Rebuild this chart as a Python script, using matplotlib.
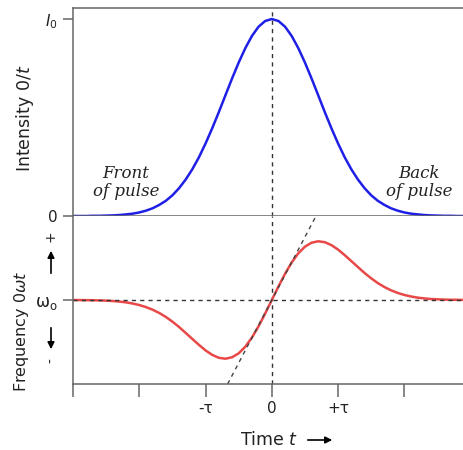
import numpy as np
import matplotlib.pyplot as plt
from matplotlib.patches import FancyArrowPatch

# time axis in units of tau
t = np.round(np.arange(-3.0, 3.01, 0.1), 2)

# intensity I(t)/I0 (symmetric, 0 -> 3)
intensity_half = [1.000, 0.990, 0.961, 0.914, 0.852, 0.779, 0.698, 0.613, 0.527, 0.445,
                  0.368, 0.298, 0.237, 0.185, 0.141, 0.105, 0.077, 0.056, 0.039, 0.027,
                  0.018, 0.012, 0.008, 0.005, 0.003, 0.002, 0.001, 0.001, 0.000, 0.000,
                  0.000]
# frequency shift (panel half-height = 1) (odd, 0 -> 3)
freq_half = [0.000, 0.161, 0.313, 0.447, 0.556, 0.635, 0.682, 0.699, 0.688, 0.653,
             0.600, 0.534, 0.463, 0.392, 0.321, 0.258, 0.201, 0.154, 0.115, 0.084,
             0.060, 0.042, 0.028, 0.019, 0.012, 0.008, 0.005, 0.003, 0.002, 0.001,
             0.000]
intensity = np.array(intensity_half[:0:-1] + intensity_half)
freq = np.array([-v for v in freq_half[:0:-1]] + freq_half)

# dashed tangent through the pulse centre
tangent_t = [-0.667, 0.667]
tangent_w = [-1.0, 1.0]

xticks = [-3, -2, -1, 0, 1, 2]
xticklabels = ['', '', '-τ', '0', '+τ', '']

W, H = 464, 450
AX_COL = '#666666'
TXT = '#222222'


def fx(x):
    return x / W


def fy(y):
    return 1 - y / H


fig = plt.figure(figsize=(W / 100, H / 100), dpi=100)

left = fx(73)
ax1 = fig.add_axes([left, fy(216), 1 - left, (216 - 8) / H])
ax2 = fig.add_axes([left, fy(384), 1 - left, (384 - 216) / H])

for ax in (ax1, ax2):
    ax.set_xlim(-3, 2.9)
    ax.spines['right'].set_visible(False)
    for s in ax.spines.values():
        s.set_color(AX_COL)
        s.set_linewidth(1.1)
    ax.tick_params(colors=AX_COL, labelcolor=TXT, width=1.1, length=7.5)
    ax.axvline(0, color='#333333', lw=1, ls=(0, (3, 3)))

# top panel: intensity
ax1.plot(t, intensity, color='#1f1fe6', lw=1.8, solid_joinstyle='round')
ax1.set_ylim(0, 1.056)
ax1.set_xticks([])
ax1.set_yticks([0, 1])
ax1.set_yticklabels(['0', '$I_0$'], fontsize=11)
ax1.text(-2.2, 0.17, 'Front\nof pulse', fontsize=12, family='DejaVu Serif',
         style='italic', ha='center', va='center', color=TXT, linespacing=1.1)
ax1.text(2.22, 0.17, 'Back\nof pulse', fontsize=12, family='DejaVu Serif',
         style='italic', ha='center', va='center', color=TXT, linespacing=1.1)

# bottom panel: instantaneous frequency
ax2.plot(t, freq, color='#e84848', lw=1.8, solid_joinstyle='round')
ax2.plot(tangent_t, tangent_w, color='#444444', lw=1, ls=(0, (3, 3)))
ax2.axhline(0, color='#333333', lw=1, ls=(0, (3, 3)))
ax2.set_ylim(-1, 1)
ax2.spines['top'].set_visible(False)
ax2.set_yticks([0])
ax2.set_yticklabels(['ω$_\\mathregular{o}$'], fontsize=12)
ax2.set_xticks(xticks)
ax2.set_xticklabels(xticklabels, fontsize=11)
ax2.tick_params(axis='x', length=9)

# axis labels
fig.text(fx(25), fy(118), 'Intensity 0/$t$', rotation=90, fontsize=12.5,
         ha='center', va='center', color=TXT)
fig.text(fx(22), fy(331), 'Frequency 0$\\omega t$', rotation=90, fontsize=11.5,
         ha='center', va='center', color=TXT)
fig.text(fx(51), fy(236), '+', rotation=90, fontsize=10, ha='center', va='center', color=TXT)
fig.text(fx(51), fy(361), '-', rotation=90, fontsize=10, ha='center', va='center', color=TXT)
arrow = dict(arrowstyle='-|>', color='black', lw=1.2, mutation_scale=10)
fig.add_artist(FancyArrowPatch((fx(51), fy(276)), (fx(51), fy(248)),
                               transform=fig.transFigure, **arrow))
fig.add_artist(FancyArrowPatch((fx(51), fy(325)), (fx(51), fy(352)),
                               transform=fig.transFigure, **arrow))

fig.text(fx(240), fy(440), 'Time $t$', fontsize=12.5, ha='left', va='center', color=TXT)
fig.add_artist(FancyArrowPatch((fx(305), fy(440)), (fx(335), fy(440)),
                               transform=fig.transFigure, **arrow))

fig.savefig('out.png', dpi=100)
